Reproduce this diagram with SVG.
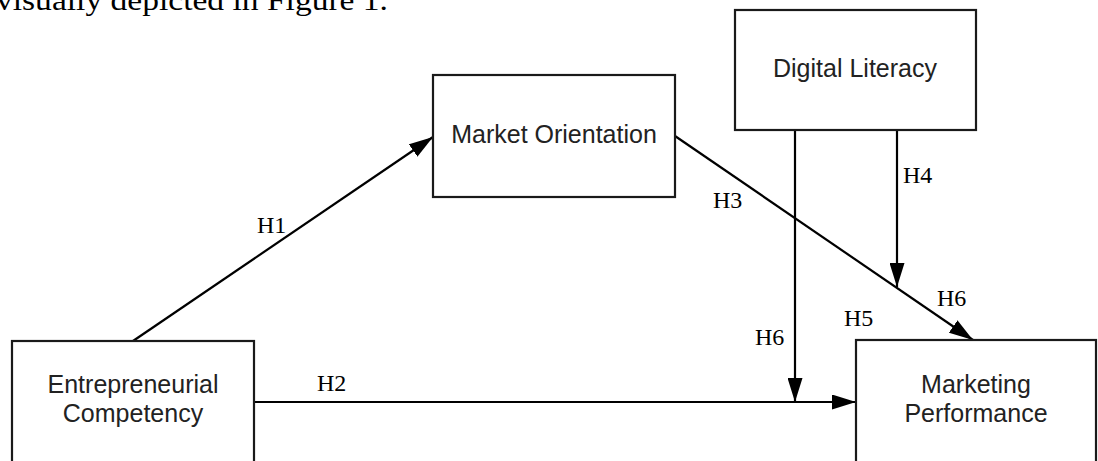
<svg xmlns="http://www.w3.org/2000/svg" width="1098" height="461" viewBox="0 0 1098 461">
<style>
.box{fill:#fff;stroke:#1a1a1a;stroke-width:2.2}
.lbl{font-family:"Liberation Sans",Arial,sans-serif;font-size:25px;fill:#222;text-anchor:middle}
.h{font-family:"Liberation Serif","Times New Roman",serif;font-size:24px;fill:#000}
.c{stroke:#000;stroke-width:2.2;fill:none}
</style>
<defs>
<marker id="arr" markerUnits="userSpaceOnUse" markerWidth="24" markerHeight="15" refX="24" refY="7.5" orient="auto">
<path d="M0,0 L24,7.5 L0,15 z" fill="#000"/>
</marker>
</defs>
<rect width="1098" height="461" fill="#fff"/>
<text x="-4" y="10" font-family="'Liberation Serif',serif" font-size="30" fill="#000" textLength="392" lengthAdjust="spacingAndGlyphs">visually depicted in Figure 1.</text>
<g id="connectors">
<line class="c" x1="133" y1="341" x2="433" y2="137" marker-end="url(#arr)"/>
<line class="c" x1="254" y1="402" x2="856" y2="402" marker-end="url(#arr)"/>
<line class="c" x1="675" y1="136" x2="973" y2="340" marker-end="url(#arr)"/>
<line class="c" x1="795" y1="130" x2="795" y2="402" marker-end="url(#arr)"/>
<line class="c" x1="897" y1="130" x2="897" y2="287" marker-end="url(#arr)"/>
<text class="h" x="257" y="233">H1</text>
<text class="h" x="317" y="391">H2</text>
<text class="h" x="713" y="208">H3</text>
<text class="h" x="903" y="183">H4</text>
<text class="h" x="844" y="326">H5</text>
<text class="h" x="755" y="345">H6</text>
<text class="h" x="937" y="306">H6</text>
</g>
<g id="market-orientation">
<rect class="box" x="433" y="75" width="242" height="122"/>
<text class="lbl" x="554" y="143">Market Orientation</text>
</g>
<g id="digital-literacy">
<rect class="box" x="735" y="10" width="241" height="120"/>
<text class="lbl" x="855" y="77">Digital Literacy</text>
</g>
<g id="entrepreneurial-competency">
<rect class="box" x="12" y="341" width="242" height="130"/>
<text class="lbl" x="133" y="393">Entrepreneurial</text>
<text class="lbl" x="133" y="422">Competency</text>
</g>
<g id="marketing-performance">
<rect class="box" x="856" y="340" width="240" height="131"/>
<text class="lbl" x="976" y="393">Marketing</text>
<text class="lbl" x="976" y="422">Performance</text>
</g>
</svg>
